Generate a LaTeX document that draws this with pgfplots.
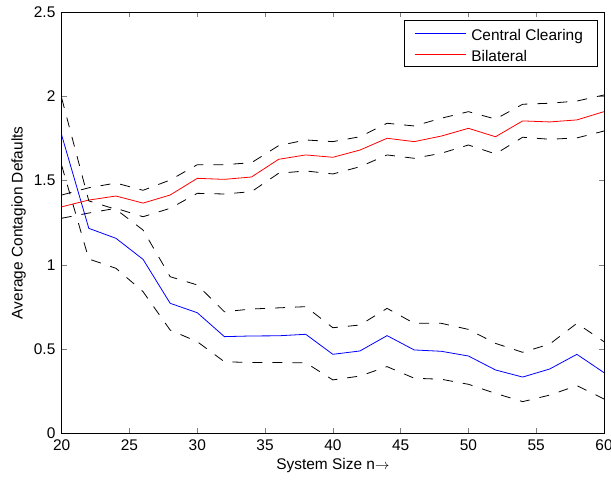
\documentclass[border=0pt]{standalone}
\usepackage{fontspec}
\setmainfont{Liberation Sans}
\usepackage{pgfplots}
\usepackage{pgfplotstable}
\pgfplotsset{compat=1.18}

% n, mean, upper band, lower band
\pgfplotstableread{
n   cc     ccup   cclo
20  1.770  1.990  1.590
22  1.217  1.380  1.035
24  1.158  1.330  0.980
26  1.033  1.207  0.841
28  0.772  0.930  0.613
30  0.716  0.881  0.544
32  0.574  0.722  0.425
34  0.578  0.738  0.420
36  0.579  0.745  0.420
38  0.588  0.752  0.419
40  0.469  0.627  0.317
42  0.489  0.643  0.340
44  0.580  0.742  0.396
46  0.495  0.653  0.327
48  0.487  0.653  0.321
50  0.459  0.617  0.291
52  0.376  0.534  0.237
54  0.334  0.481  0.188
56  0.382  0.530  0.227
58  0.469  0.653  0.283
60  0.360  0.544  0.204
}\central

\pgfplotstableread{
n   bl     blup   bllo
20  1.345  1.415  1.277
22  1.385  1.458  1.308
24  1.409  1.486  1.336
26  1.367  1.443  1.286
28  1.415  1.504  1.336
30  1.514  1.595  1.425
32  1.508  1.595  1.421
34  1.522  1.607  1.435
36  1.627  1.708  1.544
38  1.653  1.742  1.558
40  1.639  1.732  1.540
42  1.682  1.761  1.583
44  1.752  1.841  1.653
46  1.732  1.825  1.633
48  1.765  1.871  1.663
50  1.811  1.910  1.712
52  1.761  1.866  1.659
54  1.855  1.954  1.758
56  1.849  1.960  1.746
58  1.861  1.973  1.754
60  1.910  2.009  1.795
}\bilateral

\newcommand{\keyline}[1]{\textcolor{#1}{\rule[6.5bp]{51bp}{1bp}}}

\begin{document}
\fontsize{15.5}{18}\selectfont
\begin{tikzpicture}
\begin{axis}[
  name=main,
  scale only axis,
  width=542.3bp, height=421bp,
  xmin=20, xmax=60, ymin=0, ymax=2.5,
  xtick={20,25,...,60},
  ytick={0,0.5,...,2.5},
  tick align=inside,
  major tick length=5bp,
  axis line style={line width=0.9bp},
  tick style={line width=0.7bp},
  /pgf/number format/assume math mode=true,
  xticklabel style={yshift=-1bp},
  yticklabel style={xshift=-1bp},
  xlabel={System Size n$\rightarrow$},
  ylabel={Average Contagion Defaults},
  xlabel style={at={([yshift=-36bp]rel axis cs:0.5,0)}, anchor=base},
  ylabel style={at={([xshift=-43bp]rel axis cs:0,0.5)}, anchor=center},
  every axis plot/.append style={line width=0.8bp},
]
\addplot[blue] table[x=n, y=cc] {\central};
\addplot[red] table[x=n, y=bl] {\bilateral};

\addplot[black, dash pattern=on 10bp off 10bp] table[x=n, y=ccup] {\central};
\addplot[black, dash pattern=on 10bp off 10bp] table[x=n, y=cclo] {\central};
\addplot[black, dash pattern=on 10bp off 10bp] table[x=n, y=blup] {\bilateral};
\addplot[black, dash pattern=on 10bp off 10bp] table[x=n, y=bllo] {\bilateral};
\end{axis}

% legend box
\node[draw=black, line width=0.8bp, fill=white, inner sep=0pt, anchor=north east]
  at ([shift={(-6.7bp,-7.7bp)}]main.north east) {%
  \renewcommand{\arraystretch}{1}%
  \begin{tabular}{@{\hspace{9.7bp}}l@{\hspace{5.8bp}}l@{\hspace{14bp}}}
    \keyline{blue} & Central Clearing\rule{0pt}{20bp}\\[2.7bp]
    \keyline{red} & Bilateral
  \end{tabular}};

\pgfresetboundingbox
\path ([shift={(-61.7bp,-50.7bp)}]main.south west) rectangle ([shift={(7bp,12.3bp)}]main.north east);
\end{tikzpicture}
\end{document}
